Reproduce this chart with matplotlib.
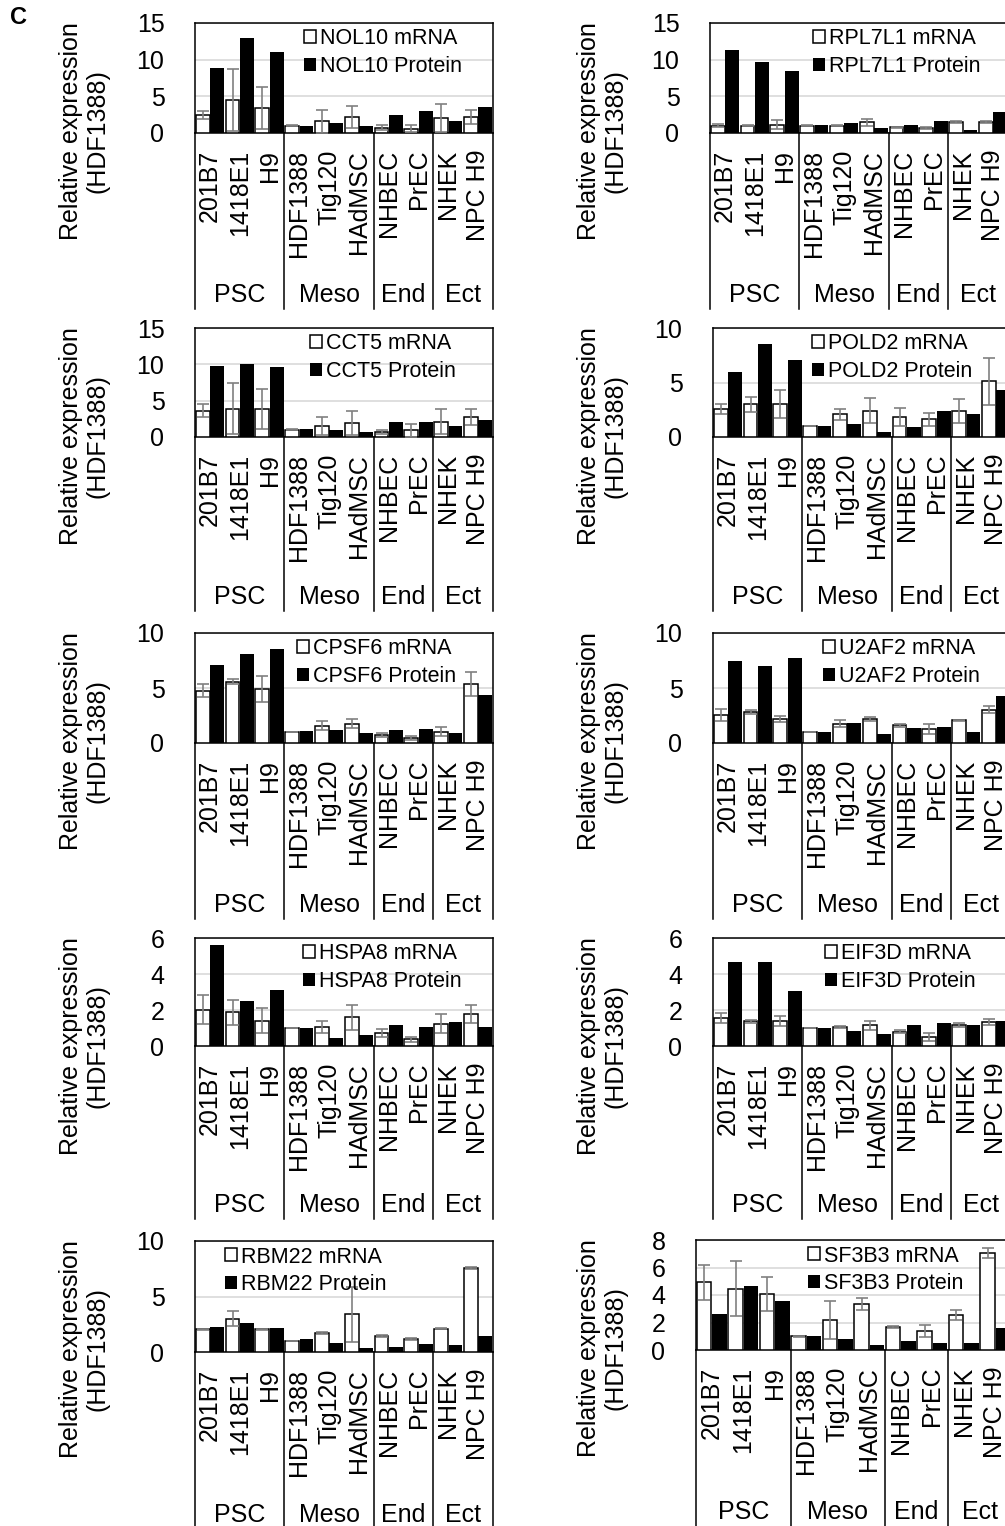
import matplotlib
matplotlib.use('Agg')
import matplotlib.pyplot as plt
import numpy as np

plt.rcParams['font.family'] = ['Liberation Sans', 'DejaVu Sans']

# cell lines and lineage groups
cells = ['201B7', '1418E1', 'H9', 'HDF1388', 'Tig120', 'HAdMSC',
         'NHBEC', 'PrEC', 'NHEK', 'NPC H9']
groups = ['PSC', 'Meso', 'End', 'Ect']
group_sizes = [3, 3, 2, 2]

# values (relative to HDF1388)
nol10_mrna = [2.5, 4.5, 3.4, 1.0, 1.6, 2.2, 0.7, 0.6, 2.05, 2.2]
nol10_err = [0.55, 4.2, 2.9, 0.05, 1.6, 1.5, 0.35, 0.5, 1.95, 1.0]
nol10_prot = [8.8, 12.95, 11.05, 1.0, 1.35, 0.9, 2.5, 3.05, 1.6, 3.5]

rpl7l1_mrna = [1.0, 1.0, 1.15, 1.0, 1.0, 1.45, 0.77, 0.7, 1.45, 1.5]
rpl7l1_err = [0.2, 0.1, 0.6, 0.05, 0.05, 0.5, 0.1, 0.15, 0.15, 0.1]
rpl7l1_prot = [11.35, 9.7, 8.4, 1.05, 1.35, 0.7, 1.05, 1.6, 0.45, 2.8]

cct5_mrna = [3.6, 3.9, 3.8, 1.0, 1.5, 1.95, 0.7, 0.9, 2.1, 2.7]
cct5_err = [0.9, 3.5, 2.75, 0.05, 1.25, 1.65, 0.3, 0.9, 1.7, 1.1]
cct5_prot = [9.8, 10.1, 9.7, 1.05, 0.9, 0.65, 2.0, 2.0, 1.5, 2.4]

pold2_mrna = [2.55, 3.0, 3.0, 1.0, 2.08, 2.42, 1.83, 1.62, 2.35, 5.1]
pold2_err = [0.45, 0.67, 1.28, 0.03, 0.52, 1.16, 0.85, 0.58, 1.1, 2.15]
pold2_prot = [6.0, 8.5, 7.05, 1.0, 1.22, 0.43, 0.92, 2.35, 2.1, 4.28]

cpsf6_mrna = [4.75, 5.58, 4.9, 1.0, 1.58, 1.77, 0.76, 0.49, 1.04, 5.37]
cpsf6_err = [0.6, 0.25, 1.2, 0.03, 0.43, 0.43, 0.18, 0.18, 0.4, 1.13]
cpsf6_prot = [7.1, 8.08, 8.54, 1.07, 1.16, 0.91, 1.16, 1.25, 0.88, 4.33]

u2af2_mrna = [2.58, 2.79, 2.18, 1.0, 1.76, 2.18, 1.6, 1.3, 2.06, 3.03]
u2af2_err = [0.54, 0.18, 0.27, 0.03, 0.3, 0.18, 0.15, 0.45, 0.05, 0.33]
u2af2_prot = [7.5, 6.97, 7.73, 1.03, 1.82, 0.79, 1.36, 1.45, 0.97, 4.27]

hspa8_mrna = [2.02, 1.87, 1.41, 1.0, 1.06, 1.6, 0.73, 0.37, 1.25, 1.78]
hspa8_err = [0.82, 0.7, 0.7, 0.02, 0.35, 0.69, 0.24, 0.14, 0.53, 0.51]
hspa8_prot = [5.63, 2.48, 3.1, 1.0, 0.46, 0.59, 1.16, 1.08, 1.34, 1.08]

eif3d_mrna = [1.56, 1.38, 1.38, 1.0, 1.05, 1.14, 0.79, 0.5, 1.19, 1.34]
eif3d_err = [0.26, 0.09, 0.27, 0.02, 0.07, 0.24, 0.09, 0.22, 0.11, 0.16]
eif3d_prot = [4.64, 4.64, 3.08, 1.0, 0.83, 0.68, 1.19, 1.27, 1.14, 1.41]

rbm22_mrna = [2.05, 3.0, 2.05, 1.0, 1.72, 3.4, 1.42, 1.15, 2.1, 7.6]
rbm22_err = [0.05, 0.67, 0.05, 0.03, 0.08, 2.5, 0.07, 0.08, 0.05, 0.08]
rbm22_prot = [2.26, 2.65, 2.17, 1.14, 0.81, 0.33, 0.42, 0.72, 0.6, 1.45]

sf3b3_mrna = [4.94, 4.45, 4.06, 1.0, 2.2, 3.35, 1.69, 1.39, 2.54, 7.07]
sf3b3_err = [1.27, 2.0, 1.24, 0.03, 1.37, 0.46, 0.07, 0.44, 0.36, 0.36]
sf3b3_prot = [2.62, 4.65, 3.55, 1.0, 0.78, 0.34, 0.64, 0.54, 0.54, 1.6]

W, H = 1005, 1526
fig = plt.figure(figsize=(W / 100, H / 100), dpi=100)

# gene, mrna, err, protein, ymax, step, (left px, top px, width px, zero px), legend x
panels = [
    ('NOL10', nol10_mrna, nol10_err, nol10_prot, 15, 5, (195, 23, 298, 133), 0.366),
    ('RPL7L1', rpl7l1_mrna, rpl7l1_err, rpl7l1_prot, 15, 5, (710, 23, 298, 133), 0.346),
    ('CCT5', cct5_mrna, cct5_err, cct5_prot, 15, 5, (195, 328, 298, 437), 0.386),
    ('POLD2', pold2_mrna, pold2_err, pold2_prot, 10, 5, (713, 328, 298, 437), 0.332),
    ('CPSF6', cpsf6_mrna, cpsf6_err, cpsf6_prot, 10, 5, (195, 633, 298, 743), 0.342),
    ('U2AF2', u2af2_mrna, u2af2_err, u2af2_prot, 10, 5, (713, 633, 298, 743), 0.369),
    ('HSPA8', hspa8_mrna, hspa8_err, hspa8_prot, 6, 2, (195, 938, 298, 1046), 0.362),
    ('EIF3D', eif3d_mrna, eif3d_err, eif3d_prot, 6, 2, (713, 938, 298, 1046), 0.376),
    ('RBM22', rbm22_mrna, rbm22_err, rbm22_prot, 10, 5, (195, 1241, 298, 1352), 0.10),
    ('SF3B3', sf3b3_mrna, sf3b3_err, sf3b3_prot, 8, 2, (696, 1240, 315, 1350), 0.356),
]

x = np.arange(len(cells))
bounds = np.concatenate([[0], np.cumsum(group_sizes)]) - 0.5

for gene, mrna, err, prot, ymax, step, (l, t, w, z), legx in panels:
    ax = fig.add_axes([l / W, 1 - z / H, w / W, (z - t) / H])
    ax.bar(x - 0.24, mrna, 0.46, color='white', edgecolor='black', linewidth=1.1,
           yerr=err, error_kw=dict(ecolor='#808080', elinewidth=1.2, capsize=4,
                                   capthick=1.2, zorder=4),
           label=gene + ' mRNA', zorder=3)
    ax.bar(x + 0.24, prot, 0.46, color='black', linewidth=0,
           label=gene + ' Protein', zorder=3)
    ax.set_xlim(-0.5, len(cells) - 0.5)
    ax.set_ylim(0, ymax)
    ax.set_yticks(np.arange(0, ymax + 0.01, step))
    ax.set_yticks([0, ymax], minor=True)
    ax.yaxis.grid(True, color='#d9d9d9', linewidth=1.2)
    ax.set_axisbelow(True)
    ax.tick_params(axis='y', which='major', length=0, pad=22, labelsize=18)
    ax.tick_params(axis='y', which='minor', length=6, width=1.1)
    ax.set_xticks(x)
    ax.set_xticklabels(cells, rotation=90, fontsize=18)
    ax.tick_params(axis='x', length=0, pad=12)
    for s in ax.spines.values():
        s.set_linewidth(1.1)

    # group dividers and group names below the axis
    tr = ax.get_xaxis_transform()
    for b in bounds:
        ax.plot([b, b], [0, -1.6], color='black', lw=1.1, transform=tr, clip_on=False)
    for i, g in enumerate(groups):
        cx = (bounds[i] + bounds[i + 1]) / 2
        ax.text(cx, -1.47, g, transform=tr, ha='center', va='center', fontsize=18)

    ax.legend(loc='upper left', bbox_to_anchor=(legx, 0.95), frameon=False,
              fontsize=15.5, handlelength=0.55, handleheight=0.55,
              handletextpad=0.2, labelspacing=0.3, borderpad=0, borderaxespad=0)

    lab_x = 84 if l < 500 else 602
    fig.text(lab_x / W, 1 - (t + 108) / H, 'Relative expression\n(HDF1388)',
             rotation=90, ha='center', va='center', fontsize=18,
             multialignment='center', linespacing=1.15)

fig.text(10 / W, 1 - 17 / H, 'C', fontweight='bold', fontsize=17, ha='left', va='center')

fig.savefig('out.png', dpi=100)
